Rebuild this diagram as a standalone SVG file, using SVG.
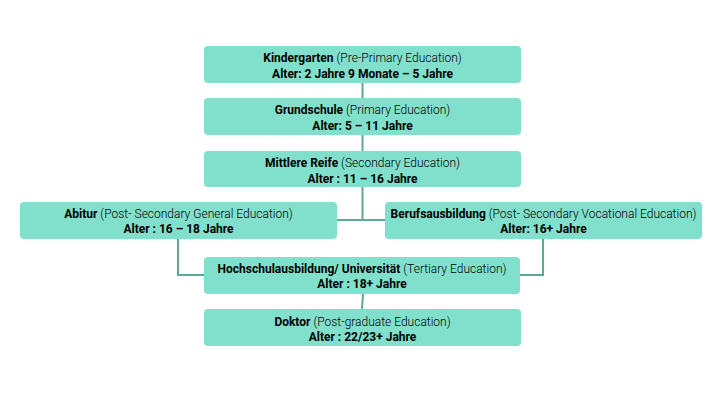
<svg xmlns="http://www.w3.org/2000/svg" width="720" height="405" viewBox="0 0 720 405">
<style>
.box{fill:#80E0CC;}
.t{font-family:Roboto,"Liberation Sans",sans-serif;font-size:12px;fill:#000;text-anchor:middle;}
.b{font-weight:700;}
.l{font-weight:300;}
.c{fill:none;stroke:#5BAA98;stroke-width:2;}
</style>
<rect width="720" height="405" fill="#fff"/>
<g id="connectors">
<line class="c" x1="362.5" y1="83" x2="362.5" y2="98"/>
<line class="c" x1="362.5" y1="135" x2="362.5" y2="151"/>
<polyline class="c" points="362.5,187 362.5,220"/>
<line class="c" x1="337" y1="220" x2="385" y2="220"/>
<polyline class="c" points="178,239 178,275 204,275"/>
<polyline class="c" points="543,239 543,275 520,275"/>
<line class="c" x1="363" y1="294" x2="362" y2="309"/>
</g>
<g id="kindergarten">
<rect class="box" x="204" y="46" width="317" height="37" rx="4"/>
<text class="t" x="362.5" y="61.5"><tspan class="b">Kindergarten</tspan><tspan class="l"> (Pre-Primary Education)</tspan></text>
<text class="t b" x="362.5" y="77.5">Alter: 2 Jahre 9 Monate – 5 Jahre</text>
</g>
<g id="grundschule">
<rect class="box" x="204" y="98" width="317" height="37" rx="4"/>
<text class="t" x="362.5" y="114"><tspan class="b">Grundschule</tspan><tspan class="l"> (Primary Education)</tspan></text>
<text class="t b" x="362.5" y="130">Alter: 5 – 11 Jahre</text>
</g>
<g id="mittlere">
<rect class="box" x="204" y="151" width="317" height="36" rx="4"/>
<text class="t" x="362.5" y="167"><tspan class="b">Mittlere Reife</tspan><tspan class="l"> (Secondary Education)</tspan></text>
<text class="t b" x="362.5" y="182.5">Alter : 11 – 16 Jahre</text>
</g>
<g id="abitur">
<rect class="box" x="20" y="202" width="317" height="37" rx="4"/>
<text class="t" x="178.5" y="218"><tspan class="b">Abitur</tspan><tspan class="l"> (Post- Secondary General Education)</tspan></text>
<text class="t b" x="178.5" y="233">Alter : 16 – 18 Jahre</text>
</g>
<g id="berufsausbildung">
<rect class="box" x="385" y="202" width="317" height="37" rx="4"/>
<text class="t" x="543.5" y="218"><tspan class="b">Berufsausbildung</tspan><tspan class="l"> (Post- Secondary Vocational Education)</tspan></text>
<text class="t b" x="543.5" y="233">Alter: 16+ Jahre</text>
</g>
<g id="hochschule">
<rect class="box" x="204" y="257" width="316" height="37" rx="4"/>
<text class="t" x="362" y="273"><tspan class="b">Hochschulausbildung/ Universität</tspan><tspan class="l"> (Tertiary Education)</tspan></text>
<text class="t b" x="362" y="288">Alter : 18+ Jahre</text>
</g>
<g id="doktor">
<rect class="box" x="204" y="309" width="317" height="37" rx="4"/>
<text class="t" x="362.5" y="325.5"><tspan class="b">Doktor</tspan><tspan class="l"> (Post-graduate Education)</tspan></text>
<text class="t b" x="362.5" y="340.5">Alter : 22/23+ Jahre</text>
</g>
</svg>
